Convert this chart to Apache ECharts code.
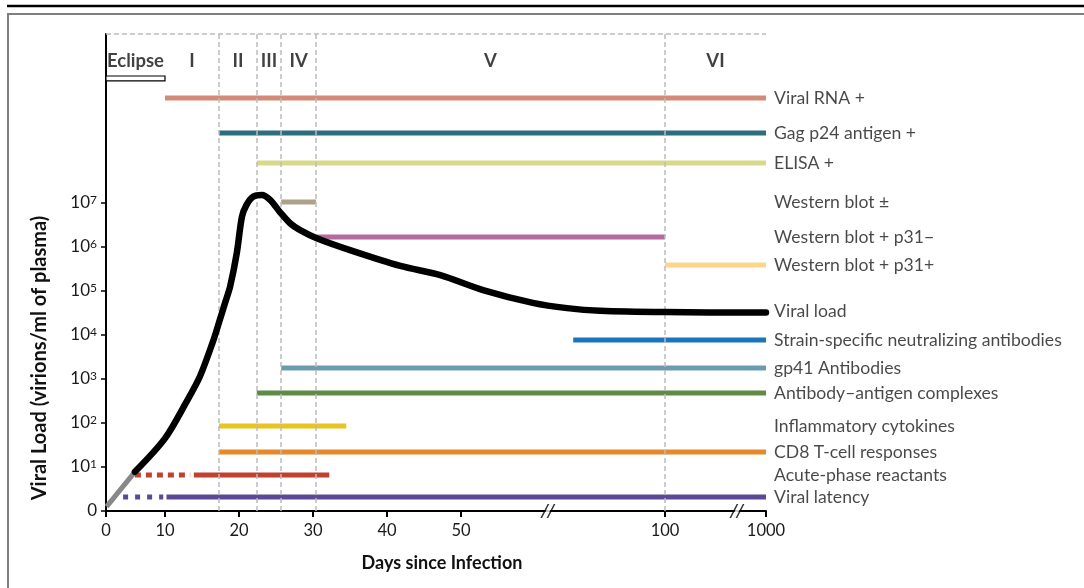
<!DOCTYPE html>
<html><head><meta charset="utf-8">
<script src="https://cdn.jsdelivr.net/npm/echarts@6/dist/echarts.min.js"></script>
<style>html,body{margin:0;padding:0;background:#fff}#c{width:1084px;height:588px}</style>
</head><body><div id="c"></div>
<script>
// ---------- axis scale definition (broken, piecewise x axis) ----------
const xTickDays = [0, 10, 20, 30, 40, 50, 100, 1000];
const xTickLabels = ['0', '10', '20', '30', '40', '50', '100', '1000'];
const xScaleUnits = [0, 59, 133, 207, 281, 355, 559, 660]; // relative axis length of each knot
const axisBreakDays = [71.3, 741];
const yTickExponents = [0, 1, 2, 3, 4, 5, 6, 7];
const Y_MAX = 10.84;

// ---------- phases ----------
const phaseNames = ['Eclipse', 'I', 'II', 'III', 'IV', 'V', 'VI'];
const phaseEdgeDays = [0, 10, 17.3, 22.4, 25.7, 30.4, 100, 1000];
const phaseBoundaryDays = [17.3, 22.4, 25.7, 30.4, 100];
const eclipseDays = [0, 10];

// ---------- viral load (day, log10 virions/ml) ----------
const viralLoadEarlyDays = [0.1, 4.9];
const viralLoadEarlyLog = [0.1, 0.89];
const viralLoadDays = [4.9, 10, 12.9, 14.7, 16.5, 17.4, 18.1, 18.8, 19.7, 20.4, 21.0, 21.9, 23.1, 24.2, 25.5, 26.9, 28.2, 30.5, 35.0, 41.8, 47.2, 55.4, 67.6, 76.0, 84.1, 100, 1000];
const viralLoadLog = [0.89, 1.65, 2.48, 3.05, 3.86, 4.34, 4.72, 5.10, 5.86, 6.69, 6.95, 7.14, 7.18, 7.07, 6.80, 6.54, 6.39, 6.20, 5.93, 5.57, 5.36, 5.02, 4.73, 4.61, 4.55, 4.52, 4.51];

// ---------- markers (start / end days) ----------
const markerNames = ['Viral RNA +', 'Gag p24 antigen +', 'ELISA +', 'Western blot ±', 'Western blot + p31−', 'Western blot + p31+',
  'Strain-specific neutralizing antibodies', 'gp41 Antibodies', 'Antibody–antigen complexes', 'Inflammatory cytokines',
  'CD8 T-cell responses', 'Acute-phase reactants', 'Viral latency'];
const markerStartDay = [10, 17.3, 22.4, 25.7, 30.4, 100, 77.5, 25.7, 22.4, 17.3, 17.3, 13.9, 10.2];
const markerEndDay = [1000, 1000, 1000, 30.4, 100, 1000, 1000, 1000, 1000, 34.5, 1000, 32.2, 1000];
const markerDashStartDay = [null, null, null, null, null, null, null, null, null, null, null, 4.9, 2.9];
const markerDashEndDay = [null, null, null, null, null, null, null, null, null, null, null, 13.4, 9.7];

// ---------- layout / style ----------
const markerRowLevel = [9.386, 8.591, 7.909, 7.023, 6.227, 5.591, 3.886, 3.25, 2.682, 1.932, 1.341, 0.818, 0.318];
const viralLoadLabelLevel = 4.545;
const phaseLabelLevel = 10.23;
const eclipseBoxLevels = [9.773, 9.886];
const markerColors = ['#d38b77', '#2d6d80', '#d9d98b', '#ada287', '#b56aa0', '#fdd68c', '#1b75bb', '#6b9bb0', '#5f8b45', '#e9c31e', '#e5892b', '#c0412c', '#5b4897'];
const markerDash = [null, null, null, null, null, null, null, null, null, null, null, [6, 5], [5, 7]];
const FONT = 'Lato';

function dayToU(d) {
  for (let i = 1; i < xTickDays.length; i++) {
    if (d <= xTickDays[i]) {
      const t = (d - xTickDays[i - 1]) / (xTickDays[i] - xTickDays[i - 1]);
      return xScaleUnits[i - 1] + t * (xScaleUnits[i] - xScaleUnits[i - 1]);
    }
  }
  return xScaleUnits[xScaleUnits.length - 1];
}
const xTickU = xTickDays.map(dayToU);
const X_MAX = dayToU(1000);

const series = [];

// phase boundaries, top border, eclipse box
series.push({
  type: 'line', data: [], silent: true, z: 1,
  markLine: {
    symbol: 'none', silent: true, label: { show: false },
    lineStyle: { color: '#bcbcbc', type: [5, 3], width: 1.5 },
    data: phaseBoundaryDays.map(d => ({ xAxis: dayToU(d) })).concat([{ yAxis: Y_MAX }])
  },
  markArea: {
    silent: true,
    itemStyle: { color: '#fff', borderColor: '#000', borderWidth: 1.2 },
    data: [[{ xAxis: dayToU(eclipseDays[0]), yAxis: eclipseBoxLevels[0] }, { xAxis: dayToU(eclipseDays[1]), yAxis: eclipseBoxLevels[1] }]]
  }
});

// marker bars
markerNames.forEach((n, i) => {
  series.push({
    type: 'line', name: n, z: 3, symbol: 'none', silent: true,
    lineStyle: { color: markerColors[i], width: 5, cap: 'butt' },
    data: [[dayToU(markerStartDay[i]), markerRowLevel[i]], [dayToU(markerEndDay[i]), markerRowLevel[i]]]
  });
  if (markerDashStartDay[i] != null) {
    series.push({
      type: 'line', z: 3, symbol: 'none', silent: true,
      lineStyle: { color: markerColors[i], width: 5, type: markerDash[i], cap: 'butt' },
      data: [[dayToU(markerDashStartDay[i]), markerRowLevel[i]], [dayToU(markerDashEndDay[i]), markerRowLevel[i]]]
    });
  }
});

// viral load
series.push({
  type: 'line', z: 5, symbol: 'none', silent: true,
  lineStyle: { color: '#88888a', width: 5, cap: 'butt' },
  data: viralLoadEarlyDays.map((d, i) => [dayToU(d), viralLoadEarlyLog[i]])
});
series.push({
  type: 'line', z: 6, symbol: 'none', silent: true, smooth: 0.3,
  lineStyle: { color: '#000', width: 6.5, cap: 'round', join: 'round' },
  data: viralLoadDays.map((d, i) => [dayToU(d), viralLoadLog[i]])
});

// right-hand labels
const labelData = markerNames.map((n, i) => ({ name: n, value: [X_MAX, markerRowLevel[i]] }))
  .concat([{ name: 'Viral load', value: [X_MAX, viralLoadLabelLevel] }]);
series.push({
  type: 'scatter', z: 7, symbolSize: 0, silent: true, clip: false,
  label: { show: true, position: 'right', distance: 8, formatter: p => p.name, fontFamily: FONT, fontSize: 17.6, color: '#1a1a1a' },
  data: labelData
});

// phase labels
series.push({
  type: 'scatter', z: 7, symbolSize: 0, silent: true, clip: false,
  label: { show: true, position: 'inside', formatter: p => p.name, fontFamily: FONT, fontSize: 18.5, fontWeight: 'bold', color: '#111' },
  data: phaseNames.map((n, i) => ({ name: n, value: [(dayToU(phaseEdgeDays[i]) + dayToU(phaseEdgeDays[i + 1])) / 2, phaseLabelLevel] }))
});

// axis break marks
series.push({
  type: 'scatter', z: 8, silent: true, clip: false,
  symbol: 'path://M3,14 L7,14 L14,0 L10,0 Z', symbolSize: [11, 14],
  itemStyle: { color: '#fff' },
  data: axisBreakDays.map(d => [dayToU(d), 0])
});
series.push({
  type: 'scatter', z: 9, silent: true, clip: false,
  symbol: 'path://M1,14 L2.6,14 L9.6,0 L8,0 Z M7,14 L8.6,14 L15.6,0 L14,0 Z', symbolSize: [15, 14],
  itemStyle: { color: '#000' },
  data: axisBreakDays.map(d => [dayToU(d), 0])
});

const option = {
  animation: false,
  textStyle: { fontFamily: FONT },
  grid: { left: 106, right: 318, top: 34, bottom: 77, containLabel: false },
  xAxis: {
    type: 'value', min: 0, max: X_MAX,
    axisLine: { show: true, onZero: false, lineStyle: { color: '#000', width: 2 } },
    axisTick: { show: true, customValues: xTickU, length: 6, lineStyle: { color: '#000', width: 2 } },
    axisLabel: {
      customValues: xTickU, margin: 11, fontSize: 16.5, color: '#1a1a1a', fontFamily: FONT,
      formatter: v => { let b = 0, bd = 1e9; xTickU.forEach((u, i) => { if (Math.abs(u - v) < bd) { bd = Math.abs(u - v); b = i; } }); return xTickLabels[b]; }
    },
    splitLine: { show: false }
  },
  yAxis: {
    type: 'value', min: 0, max: Y_MAX,
    axisLine: { show: true, lineStyle: { color: '#000', width: 2 } },
    axisTick: { show: true, customValues: yTickExponents, length: 5, lineStyle: { color: '#000', width: 1.5 } },
    axisLabel: {
      customValues: yTickExponents, margin: 9, color: '#1a1a1a', fontFamily: FONT,
      formatter: v => v === 0 ? '{b|0}' : '{b|10}{s|' + v + '}',
      rich: {
        b: { fontSize: 17, fontFamily: FONT, color: '#1a1a1a', lineHeight: 18 },
        s: { fontSize: 12, fontFamily: FONT, color: '#1a1a1a', verticalAlign: 'top', lineHeight: 18, padding: [0, 0, 7, 0] }
      }
    },
    splitLine: { show: false }
  },
  graphic: [
    { type: 'line', silent: true, shape: { x1: 7, y1: 6, x2: 1084, y2: 6 }, style: { stroke: '#000', lineWidth: 2.5 } },
    { type: 'polyline', silent: true, shape: { points: [[8, 590], [8, 14], [1084, 14]] }, style: { stroke: '#7f7f7f', lineWidth: 2, fill: null } },
    { type: 'text', silent: true, x: 442, y: 563, style: { text: 'Days since Infection', fontSize: 18, fontWeight: 'bold', fontFamily: FONT, fill: '#111', align: 'center', verticalAlign: 'middle' } },
    { type: 'text', silent: true, x: 40, y: 358, rotation: Math.PI / 2, style: { text: 'Viral Load (virions/ml of plasma)', fontSize: 20, fontWeight: 'bold', fontFamily: FONT, fill: '#111', align: 'center', verticalAlign: 'middle' } }
  ],
  series: series
};
const chart = echarts.init(document.getElementById('c'), null, { renderer: 'canvas' });
chart.setOption(option);
</script></body></html>
